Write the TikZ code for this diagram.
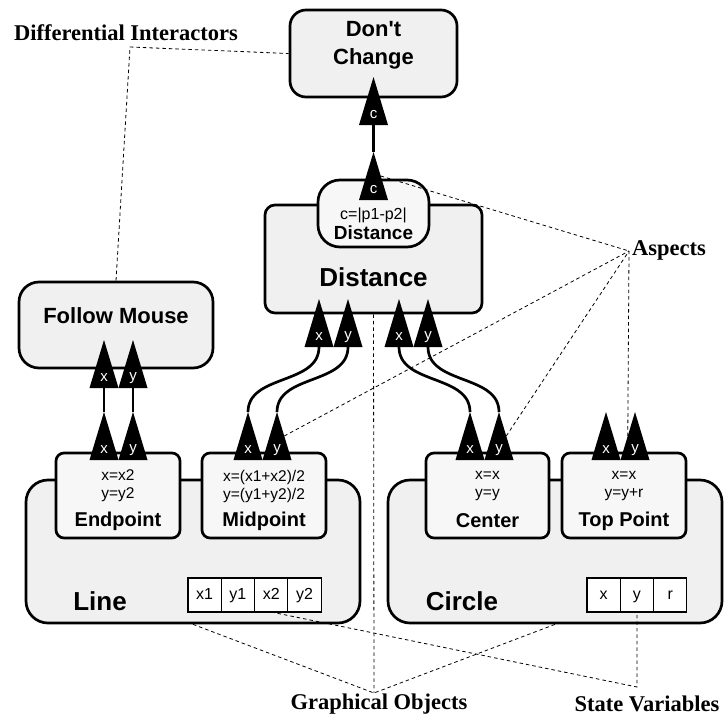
\documentclass[tikz,border=0pt]{standalone}
\usepackage{fontspec}
\setmainfont{Liberation Serif}
\setsansfont{Liberation Sans}
\usetikzlibrary{positioning}
\tikzset{
  obj-box/.style={draw=black, fill=black!6, line width=2.7pt, rounded corners=20pt},
  part-box/.style={draw=black, fill=black!3, line width=2.7pt, rounded corners=8pt},
  var-cell/.style={draw=black, fill=white, line width=1.1pt, minimum width=33.3pt,
    minimum height=34pt, inner sep=0pt, outer sep=0pt, text height=11.5pt, text depth=3.5pt,
    font=\sffamily\fontsize{16}{18}\selectfont},
  port-label/.style={text=white, inner sep=0pt, font=\sffamily\fontsize{15}{18}\selectfont},
  wire/.style={line width=2.7pt, black},
  pointer/.style={line width=0.8pt, dash pattern=on 3.5pt off 3pt},
  caption/.style={font=\fontsize{22.5}{26}\selectfont\bfseries, inner sep=0pt},
  box-title/.style={font=\sffamily\bfseries\fontsize{20}{24}\selectfont, inner sep=0pt},
  formula/.style={align=center, font=\sffamily\fontsize{15.5}{18}\selectfont, inner sep=0pt}
}
% filled port triangle: name, x, base y, letter
\newcommand{\aspectport}[4]{%
  \fill[black] (#2-14.5,#3) -- (#2,#3-48) -- (#2+14.5,#3) -- cycle;
  \coordinate (#1-tip) at (#2,#3-48);
  \coordinate (#1-base) at (#2,#3);
  \coordinate (#1-east) at (#2+7.25,#3-24);
  \coordinate (#1-west) at (#2-7.25,#3-24);
  \node[port-label] (#1) at (#2,#3-10) {#4};}

\begin{document}
\begin{tikzpicture}[x=1pt, y=-1pt]
  \useasboundingbox (0,0) rectangle (727,717);

  % Interactors
  \node[obj-box, rounded corners=16pt, minimum width=167pt, minimum height=87pt] (dontchange) at (373.5,53.5) {};
  \node[align=center, font=\sffamily\bfseries\fontsize{22}{28}\selectfont, inner sep=0pt] (dontchange-txt) at (373.5,45) {Don\textquotesingle t\\Change};

  \node[obj-box, minimum width=194pt, minimum height=86pt] (followmouse) at (116,325) {};
  \node[font=\sffamily\bfseries\fontsize{22}{26}\selectfont, inner sep=0pt] (followmouse-txt) at (116,316) {Follow Mouse};

  \node[obj-box, rounded corners=10pt, minimum width=217pt, minimum height=108pt] (distance) at (373.5,259) {};
  \node[font=\sffamily\bfseries\fontsize{26}{30}\selectfont, inner sep=0pt] (distance-txt) at (373.5,277) {Distance};

  \node[part-box, rounded corners=22pt, minimum width=111pt, minimum height=67pt] (distasp) at (373.5,213.5) {};
  \node[font=\sffamily\fontsize{16}{18}\selectfont, inner sep=0pt] (distasp-f) at (373.5,215) {c=|p1-p2|};
  \node[font=\sffamily\bfseries\fontsize{19}{22}\selectfont, inner sep=0pt] (distasp-txt) at (373.5,233) {Distance};

  % Graphical objects
  \node[obj-box, rounded corners=22pt, minimum width=334pt, minimum height=143pt] (line) at (193,551.5) {};
  \node[font=\sffamily\bfseries\fontsize{26}{30}\selectfont, inner sep=0pt] (line-txt) at (100,601) {Line};
  \node[obj-box, rounded corners=22pt, minimum width=334pt, minimum height=143pt] (circle) at (555,551.5) {};
  \node[font=\sffamily\bfseries\fontsize{26}{30}\selectfont, inner sep=0pt] (circle-txt) at (462,601) {Circle};

  % state variables
  \node[var-cell] (lx1) at (204.6,595) {x1};
  \node[var-cell, right=0pt of lx1] (ly1) {y1};
  \node[var-cell, right=0pt of ly1] (lx2) {x2};
  \node[var-cell, right=0pt of lx2] (ly2) {y2};
  \node[var-cell] (cx) at (603.6,595) {x};
  \node[var-cell, right=0pt of cx] (cy) {y};
  \node[var-cell, right=0pt of cy] (cr) {r};

  % Aspects of the objects
  \node[part-box, minimum width=124pt, minimum height=85pt] (endpoint) at (118,495.5) {};
  \node[formula] (endpoint-f) at (118,486) {x=x2\\y=y2};
  \node[box-title] (endpoint-txt) at (118,521) {Endpoint};
  \node[part-box, minimum width=124pt, minimum height=85pt] (midpoint) at (264,495.5) {};
  \node[formula] (midpoint-f) at (264,486) {x=(x1+x2)/2\\y=(y1+y2)/2};
  \node[box-title] (midpoint-txt) at (264,521) {Midpoint};
  \node[part-box, minimum width=123pt, minimum height=85pt] (center) at (487.5,495.5) {};
  \node[formula] (center-f) at (487.5,486) {x=x\\y=y};
  \node[box-title] (center-txt) at (487.5,521) {Center};
  \node[part-box, minimum width=124pt, minimum height=85pt] (toppoint) at (624,495.5) {};
  \node[formula] (toppoint-f) at (624,486) {x=x\\y=y+r};
  \node[box-title] (toppoint-txt) at (624,521) {Top Point};

  % Ports
  \aspectport{dc-c}{373.5}{125}{c}
  \aspectport{da-c}{373.5}{200}{c}
  \aspectport{fm-x}{104}{388}{x}
  \aspectport{fm-y}{133}{388}{y}
  \aspectport{dx1}{319}{347}{x}
  \aspectport{dy1}{348}{347}{y}
  \aspectport{dx2}{399}{347}{x}
  \aspectport{dy2}{428}{347}{y}
  \aspectport{ep-x}{104}{460}{x}
  \aspectport{ep-y}{133}{460}{y}
  \aspectport{mp-x}{248}{460}{x}
  \aspectport{mp-y}{277}{460}{y}
  \aspectport{ce-x}{470}{460}{x}
  \aspectport{ce-y}{499}{460}{y}
  \aspectport{tp-x}{606}{460}{x}
  \aspectport{tp-y}{635}{460}{y}

  % Connections
  \draw[wire] (da-c-tip) -- (dc-c-base);
  \draw[wire] (ep-x-tip) -- (fm-x-base);
  \draw[wire] (ep-y-tip) -- (fm-y-base);
  \draw[wire] (mp-x-tip) .. controls +(0,-38) and +(0,38) .. (dx1-base);
  \draw[wire] (mp-y-tip) .. controls +(0,-38) and +(0,38) .. (dy1-base);
  \draw[wire] (ce-x-tip) .. controls +(0,-38) and +(0,38) .. (dx2-base);
  \draw[wire] (ce-y-tip) .. controls +(0,-38) and +(0,38) .. (dy2-base);

  % Captions
  \node[caption] (diffint) at (126,33) {Differential Interactors};
  \coordinate (diffint-pt) at (130,47);
  \draw[pointer] (followmouse.north) -- (diffint-pt) -- (dontchange.west);

  \node[caption, anchor=west] (aspects) at (632,250) {Aspects};
  \coordinate (aspects-pt) at (629,251);
  \draw[pointer] (da-c-east) -- (aspects-pt);
  \draw[pointer] (mp-y-east) -- (aspects-pt);
  \draw[pointer] (ce-y-east) -- (aspects-pt);
  \draw[pointer] (tp-y-west) -- (aspects-pt);

  \node[caption] (graphobj) at (379,704) {Graphical Objects};
  \coordinate (graphobj-pt) at (374,693);
  \draw[pointer] (line.south) -- (graphobj-pt) -- (circle.south);
  \draw[pointer] (distance.south) -- (graphobj-pt);

  \node[caption] (statevars) at (647,704) {State Variables};
  \coordinate (statevars-pt) at (637,687);
  \draw[pointer] (lx2.south) -- (statevars-pt) -- (cy.south);
\end{tikzpicture}
\end{document}
